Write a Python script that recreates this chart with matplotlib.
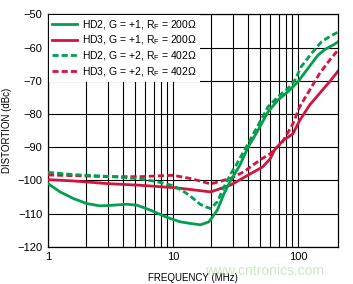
import matplotlib
matplotlib.use('Agg')
import matplotlib.pyplot as plt
from matplotlib.ticker import FixedLocator, FixedFormatter, NullFormatter

plt.rcParams['font.family'] = ['Liberation Sans', 'DejaVu Sans']
plt.rcParams['mathtext.fontset'] = 'custom'
plt.rcParams['mathtext.rm'] = 'Liberation Sans'
plt.rcParams['mathtext.it'] = 'Liberation Sans:italic'

# ---- data ----
f_hd2_g1 = [1, 1.25, 1.6, 2.04, 2.6, 3.3, 4.3, 5.15, 6.6, 9, 11.4, 13.8, 16.6, 19.4,
            22.6, 25.6, 29, 34.2, 40, 47.9, 57.5, 69.2, 83.2, 100, 120, 144.5, 164, 196, 210]
d_hd2_g1 = [-101, -103.5, -105.5, -107, -107.7, -107.5, -107.2, -107.5, -109, -111.2, -112.5,
            -113, -113.4, -112.5, -109, -104, -100, -95.5, -89.9, -84.9, -79.4, -75.8, -73.3,
            -70.3, -66.3, -62.3, -60.6, -59, -58.2]

f_hd3_g1 = [1, 1.6, 3, 5.5, 10, 12, 20, 29, 40, 52, 60, 65, 76, 91, 103, 124, 149, 179, 210]
d_hd3_g1 = [-99.8, -100.2, -101, -101.5, -102.2, -102.5, -103.5, -101.4, -98.4, -96, -93.5,
            -90.8, -88, -86, -82, -77.3, -73.8, -70.3, -67]

f_hd2_g2 = [1, 1.6, 3, 5.5, 7.4, 10, 12, 13.8, 16.6, 18.2, 20, 22.6, 25.6, 29, 32, 38.6,
            46.4, 57.5, 69.2, 83.2, 94.5, 106, 128, 154, 179, 210]
d_hd2_g2 = [-97.6, -98.3, -98.8, -99.6, -100.4, -101.6, -103.2, -104.8, -107.3, -108, -108.5,
            -106.5, -102, -98, -95.4, -89.9, -84.4, -77.9, -74.8, -72.3, -69.8, -65.8, -61.8,
            -58.3, -56.7, -55.3]

f_hd3_g2 = [1, 1.6, 3, 5.5, 10, 14, 20, 29, 37, 44, 51, 60, 75, 91, 103, 124, 149, 179, 210]
d_hd3_g2 = [-98.4, -98.6, -98.9, -98.9, -98.5, -99.5, -101.1, -99.4, -97.4, -95.3, -93.6,
            -92, -88.5, -83, -77.9, -72.8, -67.8, -63.8, -60.7]

labels = ['HD2, G = +1, R$_\\mathregular{F}$ = 200Ω',
          'HD3, G = +1, R$_\\mathregular{F}$ = 200Ω',
          'HD2, G = +2, R$_\\mathregular{F}$ = 402Ω',
          'HD3, G = +2, R$_\\mathregular{F}$ = 402Ω']

x_major = [1, 10, 100]
x_major_labels = ['1', '10', '100']
x_minor = [2, 3, 4, 5, 6, 7, 8, 9, 20, 30, 40, 50, 60, 70, 80, 90]
y_ticks = [-120, -110, -100, -90, -80, -70, -60, -50]

GREEN = '#00a04e'
RED = '#d2143f'

fig = plt.figure(figsize=(3.53, 2.84), dpi=100)
ax = fig.add_axes([48 / 353, 1 - 246.7 / 284, 290.3 / 353, 232.4 / 284])

lw = 2.0
dash = (2.2, 1.1)
ax.plot(f_hd2_g1, d_hd2_g1, color=GREEN, lw=lw, label=labels[0], zorder=4)
ax.plot(f_hd3_g1, d_hd3_g1, color=RED, lw=lw, label=labels[1], zorder=3)
ax.plot(f_hd2_g2, d_hd2_g2, color=GREEN, lw=lw, ls=(0, dash), label=labels[2], zorder=4)
ax.plot(f_hd3_g2, d_hd3_g2, color=RED, lw=lw, ls=(0, dash), label=labels[3], zorder=3)

ax.set_xscale('log')
ax.set_xlim(1, 210)
ax.set_ylim(-120, -50)
ax.xaxis.set_major_locator(FixedLocator(x_major))
ax.xaxis.set_major_formatter(FixedFormatter(x_major_labels))
ax.xaxis.set_minor_locator(FixedLocator(x_minor))
ax.xaxis.set_minor_formatter(NullFormatter())
ax.set_yticks(y_ticks)
ax.set_yticklabels([('−%d' % abs(v)) for v in y_ticks])
ax.tick_params(which='both', length=0, labelsize=8, colors='black')
ax.tick_params(axis='x', pad=4)
ax.tick_params(axis='y', pad=4)
ax.grid(which='both', color='black', lw=0.8)
ax.set_axisbelow(True)
for s in ax.spines.values():
    s.set_linewidth(0.9)
    s.set_color('black')

ax.set_xlabel('FREQUENCY (MHz)', fontsize=7)
ax.set_ylabel('DISTORTION (dBc)', fontsize=7)
ax.xaxis.set_label_coords(0.5, -0.115)
ax.yaxis.set_label_coords(-0.124, 0.5)

leg = ax.legend(loc='upper left', bbox_to_anchor=(0, 1), borderaxespad=0.05,
                frameon=True, facecolor='white', edgecolor='none', framealpha=1,
                fancybox=False, fontsize=7.5, handlelength=2.4, handletextpad=0.55,
                labelspacing=0.2, borderpad=0.3)
leg.set_zorder(10)

fig.text(265 / 353, 1 - 271 / 284, 'www.cntronics.com', color='#a8d8a0', alpha=0.6,
         fontsize=10, ha='center', va='center', zorder=0)

fig.savefig('out.png', dpi=100)
